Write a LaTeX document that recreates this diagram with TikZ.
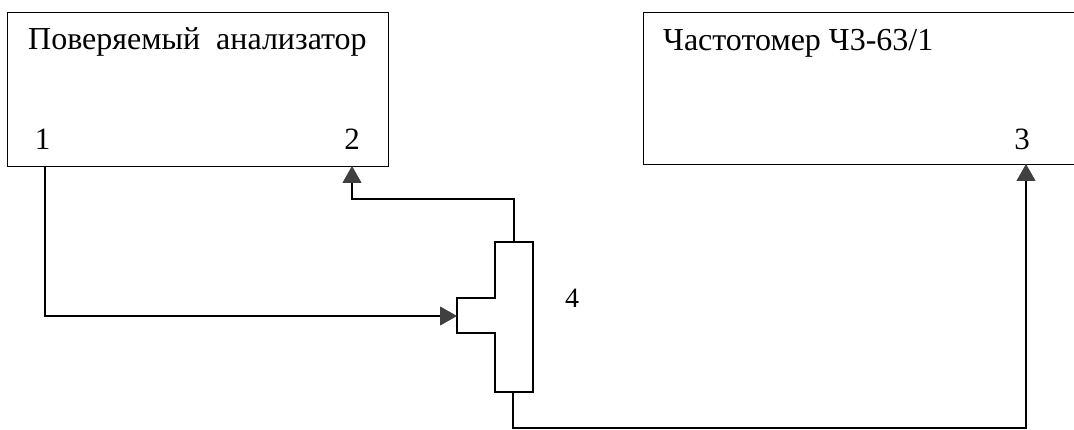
\documentclass[tikz,border=0pt]{standalone}
\usepackage{fontspec}
\setmainfont{Liberation Serif}
\usetikzlibrary{arrows.meta}
\begin{document}
\begin{tikzpicture}[x=1pt,y=-1pt,
  box/.style={draw, line width=1.2pt, inner sep=0pt},
  conn/.style={draw, line width=1.1pt},
  tipped/.style={-{Triangle[length=17pt,width=19pt,fill=black!75,color=black!75]}},
  title/.style={font=\fontsize{32}{38}\selectfont, inner sep=0pt, anchor=base west},
  num/.style={font=\fontsize{31}{36}\selectfont, inner sep=0pt, anchor=base}]
\useasboundingbox (0,0) rectangle (1074,430);
\clip (0,0) rectangle (1074,430);

% instruments
\node[box, minimum width=381pt, minimum height=154pt, anchor=north west] (an) at (7,12) {};
\node[title] (antext) at (28,50) {Поверяемый\ \ анализатор};
\node[box, minimum width=460pt, minimum height=152pt, anchor=north west] (fm) at (643,12) {};
\node[title] (fmtext) at (663,51) {Частотомер Ч3-63/1};

% port labels
\node[num] (n1) at (42.5,150) {1};
\node[num] (n2) at (352,150) {2};
\node[num] (n3) at (1022,150) {3};
\node[num, font=\fontsize{28}{32}\selectfont] (n4) at (572,308) {4};

% tee splitter
\draw[line width=1.1pt] (495,242) -- (533,242) -- (533,392) -- (495,392) -- (495,333)
  -- (457,333) -- (457,298) -- (495,298) -- cycle;
\coordinate (teein) at (457,316);
\coordinate (teetop) at (514,242);
\coordinate (teebot) at (513,392);

% ports on the instruments
\coordinate (p1) at (45,166);
\coordinate (p2) at (352,166);
\coordinate (p3) at (1026,164);
\coordinate (bend) at (1026,428);

% connections
\draw[conn, tipped] (p1) |- (teein);
\draw[conn, tipped] (teetop) -- (514,199) -| (p2);
\draw[conn, tipped] (teebot) |- (bend) -- (p3);
\end{tikzpicture}
\end{document}
